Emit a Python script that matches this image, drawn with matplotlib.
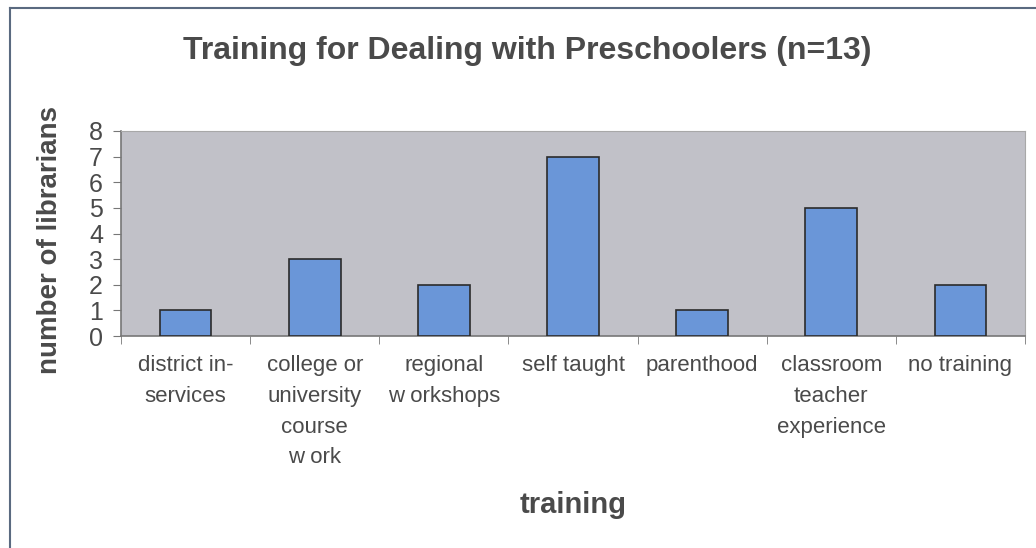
import matplotlib
matplotlib.use("Agg")
import matplotlib.pyplot as plt
from matplotlib.lines import Line2D

categories = [
    "district in-\nservices",
    "college or\nuniversity\ncourse\nw ork",
    "regional\nw orkshops",
    "self taught",
    "parenthood",
    "classroom\nteacher\nexperience",
    "no training",
]
counts = [1, 3, 2, 7, 1, 5, 2]
y_ticks = [0, 1, 2, 3, 4, 5, 6, 7, 8]

plt.rcParams["font.family"] = ["Liberation Sans", "DejaVu Sans"]
text_color = "#4a4a4a"

fig = plt.figure(figsize=(10.36, 5.48), dpi=100)
ax = fig.add_axes([121 / 1036, 1 - 336 / 548, (1025 - 121) / 1036, (336 - 131) / 548])
ax.set_facecolor("#c1c1c8")

x = range(len(categories))
ax.bar(x, counts, width=0.4, color="#6a96d8", edgecolor="#2b2b2b", linewidth=1.2, zorder=3)

ax.set_xlim(-0.5, len(categories) - 0.5)
ax.set_ylim(0, 8)
ax.set_yticks(y_ticks)
ax.set_xticks(list(x))
ax.set_xticklabels(categories, fontsize=16, color=text_color, linespacing=1.6, va="top")
ax.set_xticks([i + 0.5 for i in range(-1, len(categories))], minor=True)
ax.tick_params(axis="x", which="major", length=0, pad=14)
ax.tick_params(axis="x", which="minor", length=6, color="#777777", direction="out")
ax.tick_params(axis="y", labelsize=18, labelcolor=text_color, length=6, color="#777777", pad=7)

for side in ("left", "bottom"):
    ax.spines[side].set_color("#777777")
    ax.spines[side].set_linewidth(1.2)
for side in ("top", "right"):
    ax.spines[side].set_color("#a8a8a8")

ax.set_ylabel("number of librarians", fontsize=20, fontweight="bold", color=text_color)
ax.set_xlabel("training", fontsize=21, fontweight="bold", color=text_color)
ax.yaxis.set_label_coords((50 - 121) / 904, 0.47)
ax.xaxis.set_label_coords(0.5, (336 - 505) / 205)
ax.xaxis.label.set_va("center")
ax.yaxis.label.set_va("center")

fig.text(527 / 1036, 1 - 51 / 548, "Training for Dealing with Preschoolers (n=13)",
         ha="center", va="center", fontsize=23, fontweight="bold", color=text_color)

# outer chart frame (left and top edges visible in the source)
fig.add_artist(Line2D([10 / 1036, 10 / 1036], [0, 1 - 8 / 548], color="#5a6a80", linewidth=1.5))
fig.add_artist(Line2D([10 / 1036, 1], [1 - 8 / 548, 1 - 8 / 548], color="#5a6a80", linewidth=1.5))

fig.savefig("out.png", dpi=100)
